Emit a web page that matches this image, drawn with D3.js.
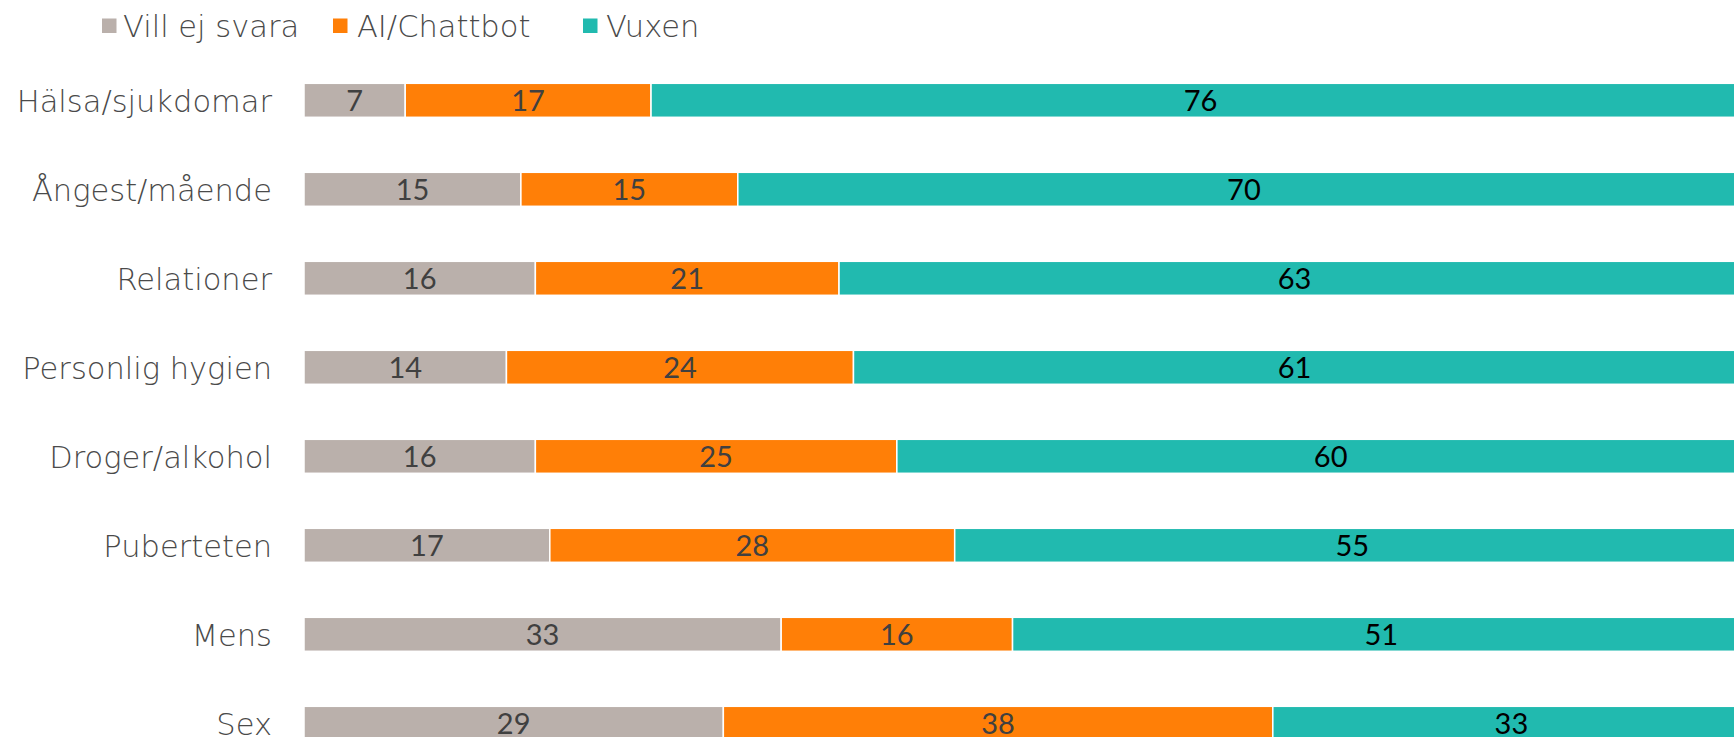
<!DOCTYPE html>
<html><head><meta charset="utf-8">
<script src="https://cdn.jsdelivr.net/npm/d3@7"></script>
<style>
html,body{margin:0;padding:0;background:#fff;overflow:hidden;}
svg{display:block;}
</style></head>
<body>
<svg id="chart" width="1734" height="737"></svg>
<script>
const categories = ["Hälsa/sjukdomar","Ångest/mående","Relationer","Personlig hygien","Droger/alkohol","Puberteten","Mens","Sex"];
const seriesNames = ["Vill ej svara","AI/Chattbot","Vuxen"];
const villEjSvara = [7,15,16,14,16,17,33,29];
const aiChattbot = [17,15,21,24,25,28,16,38];
const vuxen = [76,70,63,61,60,55,51,33];
const colors = ["#BAB0AB","#FF7F07","#21BAAF"];
const labelColors = ["#404040","#404040","#000000"];

const labelFont = "'DejaVu Sans', sans-serif";
const valueFont = "Lato, 'Open Sans', sans-serif";

const svg = d3.select("#chart");
const x = d3.scaleLinear().domain([0,100]).range([304,1750]);
const y = d3.scaleBand().domain(categories).range([55.8,767.8]).paddingInner(0.618).paddingOuter(0.309);

const stackData = categories.map((c,i)=>({cat:c, [seriesNames[0]]:villEjSvara[i], [seriesNames[1]]:aiChattbot[i], [seriesNames[2]]:vuxen[i]}));
const stack = d3.stack().keys(seriesNames)(stackData);

const g = svg.append("g");
stack.forEach((layer,j)=>{
  const lg = g.append("g");
  lg.selectAll("rect").data(layer).join("rect")
    .attr("x",d=>x(d[0]))
    .attr("y",d=>y(d.data.cat))
    .attr("width",d=>x(d[1])-x(d[0]))
    .attr("height",y.bandwidth())
    .attr("fill",colors[j])
    .attr("stroke","#fff").attr("stroke-width",1.5);
  lg.selectAll("text").data(layer).join("text")
    .attr("x",d=>(x(d[0])+x(d[1]))/2)
    .attr("y",d=>y(d.data.cat)+y.bandwidth()/2+11)
    .attr("text-anchor","middle")
    .attr("fill",labelColors[j])
    .attr("font-family",valueFont)
    .attr("font-size",29)
    .text(d=>d[1]-d[0]);
});

// category axis
const yAxis = d3.axisLeft(y).tickSize(0).tickPadding(0);
const ax = svg.append("g").attr("transform","translate(272,0)").call(yAxis);
ax.select(".domain").remove();
ax.selectAll("text")
  .attr("font-size",30.5).attr("fill","#4a4a4a")
  .attr("font-family",labelFont).attr("font-weight",200)
  .attr("dy",null).attr("y",11.5);

// legend
const legSquareX = [102,333,583];
const legTextX = [123,357,606];
const leg = svg.append("g");
seriesNames.forEach((s,j)=>{
  leg.append("rect").attr("x",legSquareX[j]).attr("y",18.5).attr("width",14.5).attr("height",14.5).attr("fill",colors[j]);
  leg.append("text").attr("x",legTextX[j]).attr("y",37)
    .attr("font-family",labelFont).attr("font-weight",200)
    .attr("font-size",30.5).attr("fill","#4a4a4a").text(s);
});
</script>
</body></html>
